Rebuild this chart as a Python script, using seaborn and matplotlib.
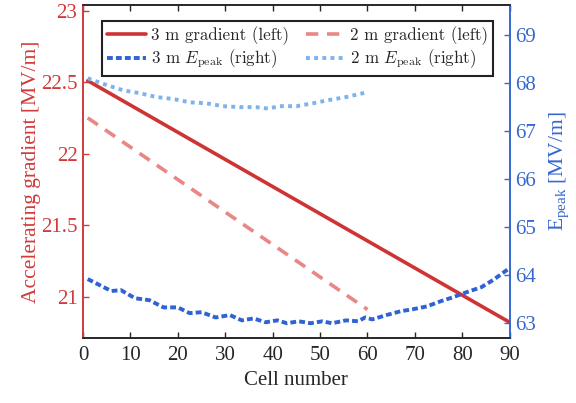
import numpy as np
import pandas as pd
import matplotlib
matplotlib.use("Agg")
import matplotlib.pyplot as plt
from matplotlib.font_manager import FontProperties
import seaborn as sns

# ---- data ----
cells_3m_grad = [1, 90]
grad_3m = [22.51, 20.82]
cells_2m_grad = [1, 60]
grad_2m = [22.25, 20.91]

cells_3m_ep = [1, 3, 6, 8, 11, 14, 17, 20, 22.5, 25, 28, 31, 33.5, 36, 38.5, 41, 43, 45.5,
               48, 50.5, 52.5, 55.5, 58, 59.5, 61, 64, 67, 69.5, 72.5, 75.5, 78, 81, 84, 86.5, 89, 90]
ep_3m = [63.92, 63.82, 63.67, 63.69, 63.52, 63.48, 63.33, 63.33, 63.21, 63.23, 63.12, 63.17, 63.06,
         63.10, 63.02, 63.06, 63.00, 63.04, 63.00, 63.04, 63.00, 63.06, 63.04, 63.12, 63.08, 63.17,
         63.25, 63.29, 63.35, 63.46, 63.54, 63.65, 63.75, 63.90, 64.08, 64.15]
cells_2m_ep = [1, 5, 8.5, 12, 15.5, 19, 22.5, 26, 29.5, 33, 36.5, 39, 41.5, 45, 48.5, 52, 55.5, 59.5]
ep_2m = [68.10, 67.96, 67.85, 67.79, 67.71, 67.67, 67.60, 67.58, 67.52, 67.50, 67.50, 67.47,
         67.52, 67.52, 67.58, 67.65, 67.71, 67.80]

labels = ["3 m gradient (left)", "2 m gradient (left)",
          r"3 m $E_{\mathrm{peak}}$ (right)", r"2 m $E_{\mathrm{peak}}$ (right)"]

sns.set_style("white")
plt.rcParams["font.family"] = ["Liberation Serif", "DejaVu Serif"]
plt.rcParams["mathtext.fontset"] = "custom"
plt.rcParams["mathtext.rm"] = "Liberation Serif"
plt.rcParams["mathtext.it"] = "Liberation Serif:italic"
plt.rcParams["mathtext.bf"] = "Liberation Serif:bold"

RED = "#cf3434"
LRED = "#e98686"
BLUE = "#2f62d2"
LBLUE = "#7db3ec"
AXRED = "#d03a3a"
AXBLUE = "#3567cf"
DARK = "#262626"

fig = plt.figure(figsize=(5.76, 4.03), dpi=100)
ax = fig.add_axes([0.144, 0.161, 0.741, 0.827])
ax2 = ax.twinx()

df_g3 = pd.DataFrame({"cell": cells_3m_grad, "val": grad_3m})
df_g2 = pd.DataFrame({"cell": cells_2m_grad, "val": grad_2m})
df_e3 = pd.DataFrame({"cell": cells_3m_ep, "val": ep_3m})
df_e2 = pd.DataFrame({"cell": cells_2m_ep, "val": ep_2m})

sns.lineplot(data=df_g3, x="cell", y="val", ax=ax, color=RED, lw=2.6, label=labels[0], legend=False)
sns.lineplot(data=df_g2, x="cell", y="val", ax=ax, color=LRED, lw=2.6, label=labels[1], legend=False)
ax.lines[1].set_dashes((3.4, 2.4))
sns.lineplot(data=df_e3, x="cell", y="val", ax=ax2, color=BLUE, lw=2.8, label=labels[2], legend=False)
ax2.lines[0].set_dashes((1.5, 0.8))
sns.lineplot(data=df_e2, x="cell", y="val", ax=ax2, color=LBLUE, lw=2.8, label=labels[3], legend=False)
ax2.lines[1].set_dashes((1.0, 1.1))

ax.set_xlim(0, 90)
ax.set_ylim(20.71, 23.04)
ax2.set_ylim(62.69, 69.63)
ax.set_xticks(np.arange(0, 91, 10))
ax.set_yticks([21, 21.5, 22, 22.5, 23])
ax.set_yticklabels(["21", "21.5", "22", "22.5", "23"])
ax2.set_yticks([63, 64, 65, 66, 67, 68, 69])

fs = 15
ax.set_xlabel("Cell number", fontsize=fs, color=DARK, labelpad=4)
ax.set_ylabel("Accelerating gradient [MV/m]", fontsize=15.5, color=AXRED, labelpad=0)
ax2.set_ylabel(r"E$_{\mathrm{peak}}$ [MV/m]", fontsize=15.5, color=AXBLUE, labelpad=8)

ax.tick_params(axis="x", direction="in", top=True, bottom=True, length=4, width=1,
               labelsize=fs, colors=DARK, pad=6)
ax.tick_params(axis="y", direction="in", left=True, right=False, length=4, width=1,
               labelsize=fs, colors=AXRED, pad=4)
ax2.tick_params(axis="y", direction="in", right=True, left=False, length=4, width=1,
                labelsize=fs, colors=AXBLUE, pad=4)

for a in (ax, ax2):
    for s in a.spines.values():
        s.set_visible(True)
        s.set_linewidth(1.2)
    a.spines["top"].set_color(DARK)
    a.spines["bottom"].set_color(DARK)
    a.spines["left"].set_color(AXRED)
    a.spines["right"].set_color(AXBLUE)

leg_prop = FontProperties(family="cmr10", size=12.2)
leg_prop.set_math_fontfamily("cm")
g3, g2 = ax.lines[:2]
e3, e2 = ax2.lines[:2]
handles = [g3, e3, g2, e2]
leg_labels = [labels[0], labels[2], labels[1], labels[3]]
leg = ax2.legend(handles, leg_labels, loc="upper left", bbox_to_anchor=(0.177, 0.947),
                 bbox_transform=fig.transFigure, ncol=2, prop=leg_prop, frameon=True,
                 fancybox=False, edgecolor="#222222", framealpha=1, handlelength=2.3,
                 handletextpad=0.3, columnspacing=1.0, borderpad=0.3, labelspacing=0.15,
                 borderaxespad=0)
leg.get_frame().set_linewidth(1.5)

fig.savefig("out.png", dpi=100)
